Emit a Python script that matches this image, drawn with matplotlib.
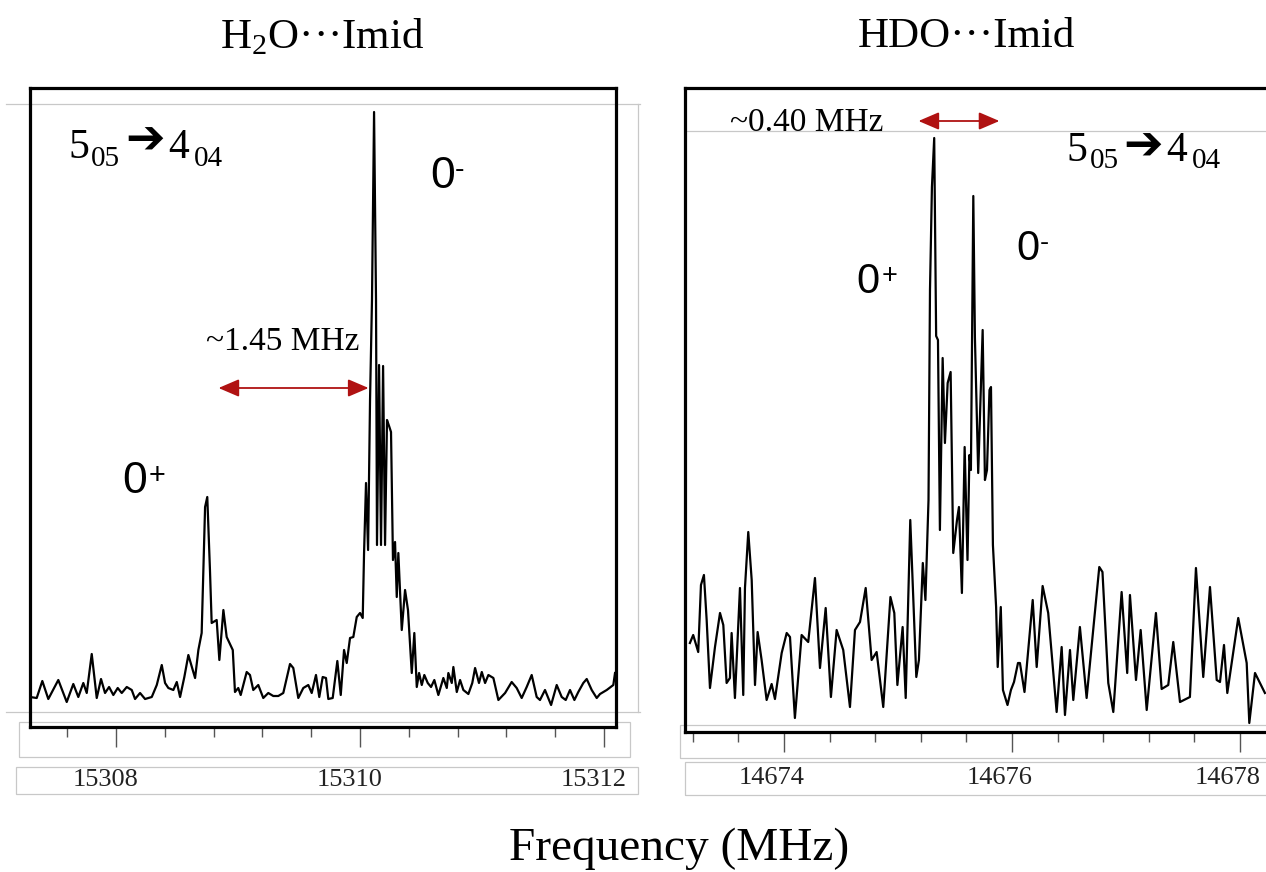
import numpy as np
import matplotlib.pyplot as plt
import matplotlib.transforms as mtransforms
from matplotlib.patches import Rectangle
from matplotlib.lines import Line2D
from matplotlib.ticker import MultipleLocator

# ------------------------------------------------------------
# spectra (frequency in MHz, intensity arb.)
# ------------------------------------------------------------
h2o_freq = [15307.295, 15307.350, 15307.396, 15307.445, 15307.527, 15307.596, 15307.650, 15307.691, 15307.732, 15307.760,
            15307.801, 15307.842, 15307.877, 15307.910, 15307.943, 15307.978, 15308.014, 15308.047, 15308.088, 15308.129,
            15308.156, 15308.197, 15308.238, 15308.293, 15308.334, 15308.375, 15308.402, 15308.429, 15308.470, 15308.498,
            15308.525, 15308.560, 15308.593, 15308.648, 15308.675, 15308.702, 15308.730, 15308.748, 15308.770, 15308.784,
            15308.825, 15308.847, 15308.880, 15308.907, 15308.957, 15308.975, 15309.002, 15309.022, 15309.071, 15309.098,
            15309.125, 15309.166, 15309.207, 15309.248, 15309.289, 15309.330, 15309.371, 15309.426, 15309.453, 15309.494,
            15309.535, 15309.576, 15309.604, 15309.639, 15309.666, 15309.694, 15309.721, 15309.740, 15309.776, 15309.814,
            15309.842, 15309.869, 15309.891, 15309.918, 15309.945, 15309.973, 15310.000, 15310.022, 15310.033, 15310.049,
            15310.066, 15310.082, 15310.098, 15310.115, 15310.131, 15310.139, 15310.156, 15310.172, 15310.189, 15310.205,
            15310.221, 15310.238, 15310.254, 15310.270, 15310.287, 15310.301, 15310.314, 15310.342, 15310.369, 15310.393,
            15310.424, 15310.445, 15310.465, 15310.484, 15310.506, 15310.527, 15310.555, 15310.582, 15310.609, 15310.642,
            15310.683, 15310.711, 15310.724, 15310.752, 15310.765, 15310.793, 15310.820, 15310.847, 15310.888, 15310.920,
            15310.943, 15310.975, 15310.998, 15311.025, 15311.052, 15311.093, 15311.134, 15311.189, 15311.243, 15311.284,
            15311.325, 15311.366, 15311.407, 15311.448, 15311.475, 15311.516, 15311.566, 15311.612, 15311.653, 15311.686,
            15311.721, 15311.757, 15311.789, 15311.830, 15311.858, 15311.899, 15311.940, 15311.967, 15312.022, 15312.076,
            15312.090]
h2o_int = [3.0, 2.9, 4.6, 2.8, 4.7, 2.5, 4.3, 3.0, 4.4, 3.4,
           7.3, 2.9, 4.8, 3.4, 4.0, 3.2, 3.9, 3.4, 4.0, 3.7,
           2.8, 3.4, 2.8, 3.0, 4.2, 6.2, 4.4, 3.9, 3.7, 4.5,
           3.0, 5.0, 7.2, 4.9, 7.7, 9.4, 22.0, 23.0, 15.7, 10.4,
           10.7, 6.7, 11.7, 9.0, 7.7, 3.5, 3.9, 3.2, 5.5, 5.2,
           3.7, 4.2, 2.9, 3.4, 3.1, 3.1, 3.4, 6.3, 5.9, 2.9,
           3.9, 4.2, 3.4, 5.2, 3.0, 5.0, 4.9, 2.8, 2.9, 6.6,
           3.2, 7.7, 6.4, 8.9, 9.0, 11.0, 11.4, 10.9, 17.4, 24.4,
           17.7, 32.7, 42.7, 61.5, 42.7, 18.2, 36.2, 18.2, 36.1, 18.2,
           30.7, 30.1, 29.5, 16.7, 18.5, 13.0, 17.4, 9.7, 13.7, 11.7,
           5.4, 9.4, 4.0, 5.4, 4.2, 5.2, 4.4, 4.0, 4.7, 3.2,
           4.9, 3.9, 5.4, 4.4, 6.0, 3.5, 4.7, 3.7, 3.3, 4.4,
           5.9, 4.4, 5.5, 4.4, 5.2, 4.9, 2.7, 3.4, 4.5, 3.9,
           2.9, 4.0, 5.2, 3.0, 2.7, 3.7, 2.2, 4.2, 3.0, 2.7,
           3.7, 2.7, 3.5, 4.4, 4.8, 3.7, 2.9, 3.3, 3.7, 4.2,
           5.4]

hdo_freq = [14673.175, 14673.204, 14673.248, 14673.272, 14673.298, 14673.322, 14673.351, 14673.395, 14673.439, 14673.468,
            14673.497, 14673.526, 14673.541, 14673.570, 14673.614, 14673.643, 14673.658, 14673.687, 14673.717, 14673.746,
            14673.769, 14673.804, 14673.848, 14673.892, 14673.921, 14673.980, 14674.024, 14674.053, 14674.096, 14674.155,
            14674.213, 14674.272, 14674.316, 14674.366, 14674.412, 14674.462, 14674.520, 14674.579, 14674.623, 14674.667,
            14674.717, 14674.769, 14674.813, 14674.871, 14674.934, 14674.968, 14674.995, 14675.041, 14675.068, 14675.108,
            14675.161, 14675.184, 14675.218, 14675.241, 14675.268, 14675.281, 14675.298, 14675.318, 14675.335, 14675.351,
            14675.368, 14675.392, 14675.412, 14675.436, 14675.462, 14675.485, 14675.518, 14675.535, 14675.561, 14675.585,
            14675.610, 14675.627, 14675.640, 14675.661, 14675.675, 14675.704, 14675.743, 14675.763, 14675.781, 14675.803,
            14675.816, 14675.833, 14675.861, 14675.875, 14675.902, 14675.921, 14675.961, 14675.991, 14676.018, 14676.053,
            14676.070, 14676.110, 14676.182, 14676.217, 14676.269, 14676.318, 14676.392, 14676.436, 14676.465, 14676.509,
            14676.538, 14676.596, 14676.655, 14676.766, 14676.794, 14676.845, 14676.889, 14676.962, 14677.011, 14677.035,
            14677.088, 14677.129, 14677.182, 14677.263, 14677.313, 14677.371, 14677.415, 14677.474, 14677.561, 14677.614,
            14677.678, 14677.737, 14677.796, 14677.825, 14677.860, 14677.889, 14677.985, 14678.059, 14678.082, 14678.132,
            14678.219]
hdo_int = [8.9, 9.7, 8.0, 14.7, 15.7, 11.2, 4.4, 8.5, 11.9, 10.7,
           4.9, 5.4, 9.9, 3.4, 14.4, 3.7, 14.4, 20.0, 15.2, 4.7,
           10.0, 7.2, 3.2, 4.8, 3.3, 7.9, 9.9, 9.5, 1.4, 9.7,
           9.0, 15.4, 6.4, 12.4, 3.5, 10.2, 8.2, 2.5, 10.2, 11.0,
           14.4, 7.2, 8.0, 2.5, 13.5, 11.9, 4.7, 10.5, 3.4, 21.2,
           5.5, 7.2, 16.9, 13.2, 23.2, 44.2, 54.5, 59.4, 39.6, 39.2,
           20.2, 37.4, 28.9, 34.9, 36.0, 17.9, 21.2, 22.5, 13.9, 28.5,
           17.2, 27.7, 26.2, 53.6, 39.5, 25.9, 40.2, 25.2, 26.2, 34.2,
           34.5, 18.7, 12.5, 6.5, 12.5, 4.2, 2.7, 4.2, 5.0, 6.9,
           6.9, 4.0, 13.2, 6.5, 14.6, 11.9, 2.0, 8.5, 1.7, 8.2,
           3.2, 10.5, 3.4, 16.5, 16.0, 4.9, 2.0, 14.0, 5.9, 13.7,
           5.2, 10.2, 2.2, 11.9, 4.3, 4.7, 9.0, 3.0, 3.5, 16.4,
           5.5, 14.5, 5.2, 5.0, 8.7, 3.9, 11.4, 6.9, 0.9, 5.9,
           3.9]

h2o_ticks = [15308, 15310, 15312]
hdo_ticks = [14674, 14676, 14678]
h2o_xlim = (15307.295, 15312.098)
hdo_xlim = (14673.132, 14678.246)

# ends of the red splitting arrows (MHz) and their height
h2o_split = (15308.84, 15310.07)
h2o_split_y = 33.9
hdo_split = (14675.18, 14675.89)
hdo_split_y = 61.1

SERIF = ['Liberation Serif', 'DejaVu Serif']
SANS = ['Liberation Sans', 'DejaVu Sans']
GRAY = '#c8c8c8'
RED = '#b01212'

W, H = 1266, 872


def fx(x):
    return x / W


def fy(y):
    return 1 - y / H


fig = plt.figure(figsize=(W / 100, H / 100), dpi=100)


def gray_box(x0, y0, x1, y1):
    fig.add_artist(Rectangle((fx(x0), fy(y1)), (x1 - x0) / W, (y1 - y0) / H,
                             transform=fig.transFigure, fill=False,
                             ec=GRAY, lw=0.9, zorder=-1))


def gray_line(xs, ys):
    fig.add_artist(Line2D([fx(x) for x in xs], [fy(y) for y in ys],
                          transform=fig.transFigure, color=GRAY, lw=0.9, zorder=-1))


def spectrum(rect, freq, inten, xlim, ylim, ticks, label_y, label_dx):
    ax = fig.add_axes(rect)
    ax.patch.set_alpha(0)
    ax.plot(freq, inten, color='black', lw=1.6)
    ax.set_xlim(xlim)
    ax.set_ylim(ylim)
    for s in ax.spines.values():
        s.set_linewidth(2.3)
        s.set_color('black')
    ax.set_yticks([])
    ax.set_xticks(ticks)
    ax.xaxis.set_minor_locator(MultipleLocator(0.4))
    ax.tick_params(axis='x', which='major', direction='out', length=14.4,
                   width=1.0, color='#555555', labelbottom=False)
    ax.tick_params(axis='x', which='minor', direction='out', length=7.2,
                   width=1.0, color='#555555')
    trans = mtransforms.blended_transform_factory(ax.transData, fig.transFigure)
    trans = mtransforms.offset_copy(trans, fig=fig, x=label_dx, y=0, units='dots')
    for t in ticks:
        ax.text(t, fy(label_y), str(t), transform=trans, ha='center', va='center',
                fontsize=19, family=SERIF, color='#222222')
    return ax


# ---------------- left panel: H2O...Imid ----------------
gray_line([6, 640], [104, 104])
gray_line([6, 640], [712, 712])
gray_line([638, 638], [104, 712])
gray_box(19, 722, 630, 757)
gray_box(16, 767, 638, 794)

ax1 = spectrum([fx(30), fy(727), (616 - 30) / W, (727 - 88) / H],
               h2o_freq, h2o_int, h2o_xlim, (0, 63.9), h2o_ticks, 780, -10)
ax1.annotate('', xy=(h2o_split[1], h2o_split_y), xytext=(h2o_split[0], h2o_split_y),
             arrowprops=dict(arrowstyle='<|-|>,head_length=0.7,head_width=0.3',
                             color=RED, lw=1.3, shrinkA=0, shrinkB=0,
                             mutation_scale=18))

# ---------------- right panel: HDO...Imid ----------------
gray_line([687, 1266], [131, 131])
gray_box(680, 725, 1270, 758)
gray_box(685, 762, 1270, 795)

ax2 = spectrum([fx(685), fy(732), (1268 - 685) / W, (732 - 88) / H],
               hdo_freq, hdo_int, hdo_xlim, (0, 64.4), hdo_ticks, 778, -12)
ax2.spines['right'].set_visible(False)
ax2.annotate('', xy=(hdo_split[1], hdo_split_y), xytext=(hdo_split[0], hdo_split_y),
             arrowprops=dict(arrowstyle='<|-|>,head_length=0.7,head_width=0.3',
                             color=RED, lw=1.3, shrinkA=0, shrinkB=0,
                             mutation_scale=18))

# ---------------- titles and labels ----------------
fig.text(fx(322), fy(37), r'H$_\mathregular{2}$O···Imid', ha='center', va='center',
         fontsize=31, family=SERIF)
fig.text(fx(966), fy(37), 'HDO···Imid', ha='center', va='center',
         fontsize=31, family=SERIF)
fig.text(fx(679), fy(849), 'Frequency (MHz)', ha='center', va='center',
         fontsize=34, family=SERIF)

fig.text(fx(283), fy(342), '~1.45 MHz', ha='center', va='center', fontsize=24, family=SERIF)
fig.text(fx(807), fy(123), '~0.40 MHz', ha='center', va='center', fontsize=24, family=SERIF)


def transition(x5, xs1, xa, x4, xs2, y_main, y_sub, y_arrow):
    fig.text(fx(x5), fy(y_main), '5', ha='center', va='center', fontsize=30, family=SERIF)
    fig.text(fx(xs1), fy(y_sub), '05', ha='center', va='center', fontsize=21, family=SERIF)
    fig.text(fx(xa), fy(y_arrow), '➔', ha='center', va='center', fontsize=34,
             family='DejaVu Sans')
    fig.text(fx(x4), fy(y_main), '4', ha='center', va='center', fontsize=30, family=SERIF)
    fig.text(fx(xs2), fy(y_sub), '04', ha='center', va='center', fontsize=21, family=SERIF)


transition(79, 105, 145, 179, 208, 148, 159, 141)
transition(1077, 1104, 1143, 1177, 1206, 151, 161, 147)


def state(x0, y0, sign, xs, ys, size):
    fig.text(fx(x0), fy(y0), '0', ha='center', va='center', fontsize=size, family=SANS)
    fig.text(fx(xs), fy(ys), sign, ha='center', va='center', fontsize=size * 0.65, family=SANS)


state(443, 176, '-', 460, 170, 32)
state(135, 481, '+', 157, 476, 32)
state(868, 282, '+', 890, 276, 30)
state(1028, 249, '-', 1044, 243, 30)

plt.savefig('out.png', dpi=100)
